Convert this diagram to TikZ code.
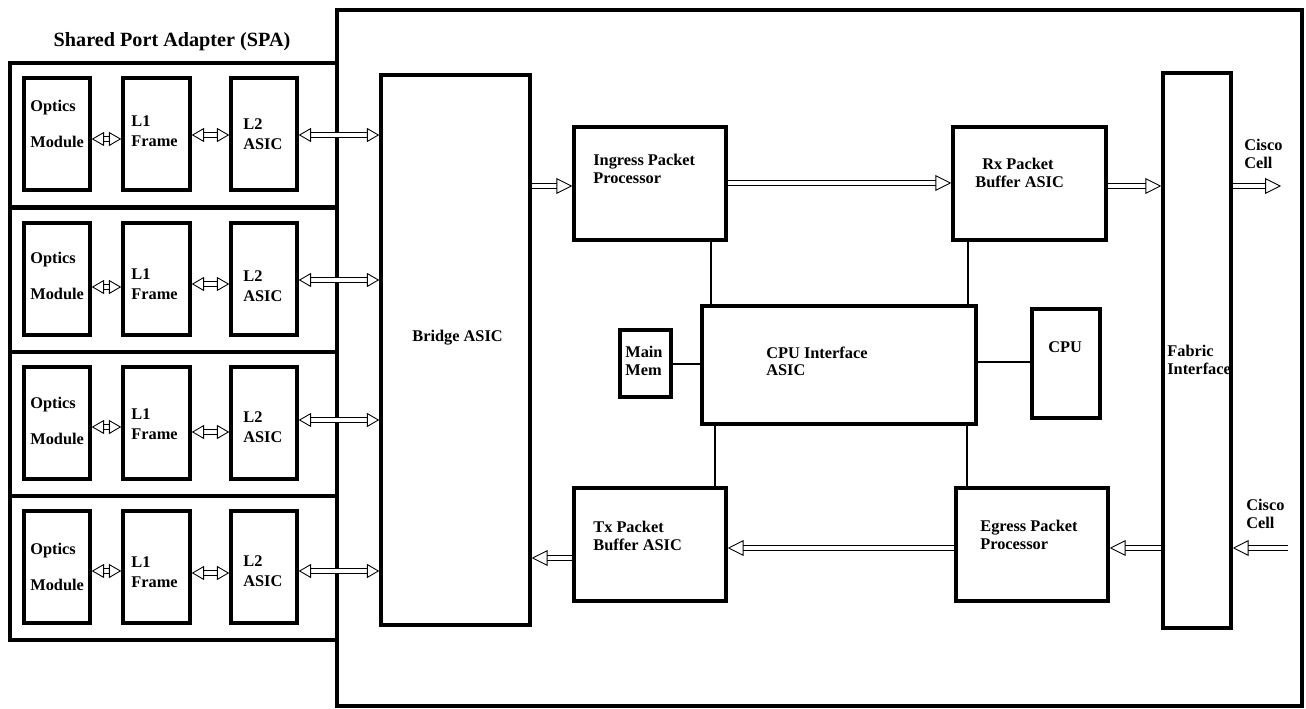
\documentclass[tikz,border=0pt]{standalone}
\usepackage{fontspec}
\setmainfont{Liberation Serif}
\usetikzlibrary{arrows.meta,positioning,fit,calc}

\tikzset{
  box/.style={draw, line width=2pt, inner sep=0pt},
  frame/.style={draw, line width=2.8pt, inner sep=0pt},
  lbl/.style={anchor=west, inner sep=0pt, align=left, font=\bfseries\fontsize{9.3}{9.8}\selectfont},
  link/.style={line width=0.7pt},
  pipe/.style={double, double distance=2.8pt, line width=0.5pt, -{Triangle[open,length=9pt,width=9pt]}},
  pipes/.style={pipe, {Triangle[open,length=7pt,width=8pt]}-{Triangle[open,length=7pt,width=8pt]}},
}

\begin{document}
\begin{tikzpicture}[x=0.02cm, y=-0.02cm]
  \useasboundingbox (0,0) rectangle (1306,709);

  % Line card frame
  \node[frame, fit={(337,10) (1302,706)}] (card) {};

  % Shared port adapter
  \node[font=\bfseries\fontsize{11.5}{13}\selectfont] (spatitle) at (172,42) {Shared Port Adapter (SPA)};

  % Bridge
  \node[box, fit={(381,75) (530,625)}] (bridge) {};
  \node[lbl] (bridgetxt) at (412,338) {Bridge ASIC};

  % SPA rows
  \foreach \i/\top/\oy/\fy/\ay/\pa/\pb/\pc in {1/63/124/131/134/139/135/135,
                                              2/208/276/284/286/287/284/280,
                                              3/352/421/424/427/427/432/420,
                                              4/496/567/572/571/571/573/571}{
    \node[frame, fit={(10,\top) (337,\top+144)}] (spa\i) {};
    \node[box, fit={(24,\top+15) (90,\top+127)}] (optics\i) {};
    \node[box, fit={(123,\top+15) (190,\top+127)}] (lone\i) {};
    \node[box, fit={(231,\top+15) (297,\top+127)}] (ltwo\i) {};
    \node[lbl] (opticstxt\i) at (30,\oy) {Optics\\[10.5pt]Module};
    \node[lbl] (lonetxt\i) at (131,\fy) {L1\\[1.5pt]Frame};
    \node[lbl] (ltwotxt\i) at (243,\ay) {L2\\[1.5pt]ASIC};
    \draw[pipes] (optics\i.east |- 0,\pa) -- (lone\i.west |- 0,\pa);
    \draw[pipes] (lone\i.east |- 0,\pb) -- (ltwo\i.west |- 0,\pb);
    \draw[pipes] (ltwo\i.east |- 0,\pc) -- (bridge.west |- 0,\pc);
  }

  % Packet path
  \node[box, fit={(574,127) (726,240)}] (ingress) {};
  \node[lbl] (ingresstxt) at (593,169) {Ingress Packet\\Processor};
  \node[box, fit={(953,127) (1106,240)}] (rxbuf) {};
  \node[lbl] (rxbuftxt) at (975,173) {\hspace*{0.14cm}Rx Packet\\Buffer ASIC};
  \node[box, fit={(574,488) (726,601)}] (txbuf) {};
  \node[lbl] (txbuftxt) at (593,536) {Tx Packet\\Buffer ASIC};
  \node[box, fit={(956,488) (1108,601)}] (egress) {};
  \node[lbl] (egresstxt) at (980,535) {Egress Packet\\Processor};

  % Fabric
  \node[box, fit={(1163,73) (1231,628)}] (fabric) {};
  \node[lbl] (fabrictxt) at (1167,360) {Fabric\\Interface};
  \node[lbl] (cellouttxt) at (1244,154) {Cisco\\Cell};
  \node[lbl] (cellintxt) at (1246,514) {Cisco\\Cell};
  \coordinate (cellout) at (1281,186);
  \coordinate (cellin) at (1288,548);

  % Control
  \node[box, fit={(702,306) (976,424)}] (cpuif) {};
  \node[lbl] (cpuiftxt) at (766,361) {CPU Interface\\ASIC};
  \node[box, fit={(620,330) (671,397)}] (mem) {};
  \node[lbl] (memtxt) at (625,361) {Main\\Mem};
  \node[box, fit={(1032,309) (1100,418)}] (cpu) {};
  \node[lbl] (cputxt) at (1048,347) {CPU};

  % Control links
  \draw[link] (ingress.south -| 711,0) -- (cpuif.north -| 711,0);
  \draw[link] (rxbuf.south -| 968,0) -- (cpuif.north -| 968,0);
  \draw[link] (cpuif.south -| 715,0) -- (txbuf.north -| 715,0);
  \draw[link] (cpuif.south -| 967,0) -- (egress.north -| 967,0);
  \draw[link] (mem.east |- 0,364) -- (cpuif.west |- 0,364);
  \draw[link] (cpuif.east |- 0,362) -- (cpu.west |- 0,362);

  % Data flow
  \draw[pipe] (bridge.east |- 0,186) -- (ingress.west |- 0,186);
  \draw[pipe] (ingress.east |- 0,183) -- (rxbuf.west |- 0,183);
  \draw[pipe] (rxbuf.east |- 0,186) -- (fabric.west |- 0,186);
  \draw[pipe] (fabric.east |- 0,186) -- (cellout);
  \draw[pipe] (cellin) -- (fabric.east |- 0,548);
  \draw[pipe] (fabric.west |- 0,548) -- (egress.east |- 0,548);
  \draw[pipe] (egress.west |- 0,548) -- (txbuf.east |- 0,548);
  \draw[pipe] (txbuf.west |- 0,558) -- (bridge.east |- 0,558);

\end{tikzpicture}
\end{document}
